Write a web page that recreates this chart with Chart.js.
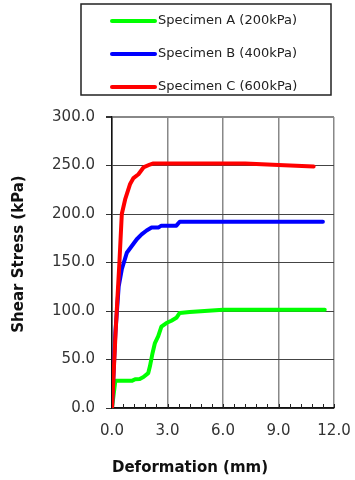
<!DOCTYPE html>
<html>
<head>
<meta charset="utf-8">
<script src="https://cdn.jsdelivr.net/npm/chart.js@4"></script>
<style>
  body { margin: 0; background: #fff; }
  #wrap { width: 355px; height: 480px; }
</style>
</head>
<body>
<div id="wrap"><canvas id="shearChart" width="355" height="480"></canvas></div>
<script>
// data
const seriesNames = ['Specimen A (200kPa)', 'Specimen B (400kPa)', 'Specimen C (600kPa)'];
const seriesColors = ['#00ff00', '#0000ff', '#ff0000'];

const deformA = [0, 0.18, 0.6, 1.07, 1.25, 1.5, 1.7, 1.96, 2.05, 2.19, 2.32, 2.5, 2.67, 2.94, 3.21, 3.48, 3.66, 4.2, 6.0, 8.0, 11.5];
const stressA = [0, 28, 28, 28, 29.7, 30, 32, 36, 43, 56.5, 67, 74, 84, 87.6, 90, 93, 98, 99, 101.3, 101.3, 101.3];

const deformB = [0, 0.18, 0.36, 0.53, 0.8, 1.07, 1.34, 1.6, 1.87, 2.14, 2.5, 2.67, 3.48, 3.66, 6.0, 9.0, 11.4];
const stressB = [0, 77, 125, 143, 160, 167, 174, 179, 183, 186, 186, 188, 188, 192, 192, 192, 192];

const deformC = [0, 0.1, 0.2, 0.27, 0.4, 0.53, 0.71, 0.98, 1.16, 1.43, 1.7, 2.05, 2.2, 4.0, 7.2, 9.0, 10.9];
const stressC = [0, 40, 80, 105, 150, 200, 215, 231, 237, 241, 248, 251, 252, 252, 252, 250.5, 249];

const xTicks = [0, 3, 6, 9, 12];
const yTicks = [0, 50, 100, 150, 200, 250, 300];

const toPoints = (xs, ys) => xs.map((x, i) => ({ x: x, y: ys[i] }));
const allX = [deformA, deformB, deformC];
const allY = [stressA, stressB, stressC];

const fontFam = '"DejaVu Sans", sans-serif';

// box legend + y title + minor ticks
const extras = {
  id: 'extras',
  beforeDatasetsDraw(chart) {
    const ctx = chart.ctx;
    const xs = chart.scales.x;
    const bottom = chart.chartArea.bottom;
    ctx.save();
    ctx.strokeStyle = '#222';
    ctx.lineWidth = 1;
    for (let i = 0; i <= 20; i++) {
      const px = Math.round(xs.getPixelForValue(i * 0.6)) + 0.5;
      ctx.beginPath();
      ctx.moveTo(px, bottom);
      ctx.lineTo(px, bottom - 4);
      ctx.stroke();
    }
    ctx.restore();
  },
  afterDraw(chart) {
    const ctx = chart.ctx;
    ctx.save();
    // legend box
    ctx.strokeStyle = '#222';
    ctx.lineWidth = 1.5;
    ctx.strokeRect(81, 4, 250, 91);
    ctx.font = '13px ' + fontFam;
    ctx.textBaseline = 'middle';
    ctx.fillStyle = '#222';
    chart.data.datasets.forEach((ds, i) => {
      const y = 21 + i * 33;
      ctx.strokeStyle = ds.borderColor;
      ctx.lineWidth = 4;
      ctx.lineCap = 'round';
      ctx.beginPath();
      ctx.moveTo(112, y);
      ctx.lineTo(155, y);
      ctx.stroke();
      ctx.fillText(ds.label, 158, y);
    });
    // y axis title
    ctx.translate(19, 254);
    ctx.rotate(-Math.PI / 2);
    ctx.textAlign = 'center';
    ctx.textBaseline = 'middle';
    ctx.font = 'bold 15px ' + fontFam;
    ctx.fillStyle = '#111';
    ctx.fillText('Shear Stress (kPa)', 0, 0);
    ctx.restore();
  }
};

new Chart(document.getElementById('shearChart'), {
  type: 'line',
  data: {
    datasets: seriesNames.map((name, i) => ({
      label: name,
      data: toPoints(allX[i], allY[i]),
      borderColor: seriesColors[i],
      backgroundColor: seriesColors[i],
      borderWidth: 4,
      pointRadius: 0,
      tension: 0,
      fill: false,
      order: 2 - i,
      borderCapStyle: 'round',
      borderJoinStyle: 'round'
    }))
  },
  options: {
    responsive: false,
    animation: false,
    layout: { padding: { top: 117, right: 21, left: 0, bottom: 0 } },
    plugins: {
      legend: { display: false },
      tooltip: { enabled: false }
    },
    scales: {
      x: {
        type: 'linear',
        min: 0,
        max: 12,
        afterBuildTicks: (s) => { s.ticks = xTicks.map(v => ({ value: v })); },
        afterFit: (s) => { s.height = 72; s.paddingLeft = 0; s.paddingRight = 0; },
        ticks: {
          padding: 14,
          color: '#333',
          font: { family: fontFam, size: 15 },
          callback: (v) => Number(v).toFixed(1)
        },
        grid: {
          color: '#888',
          lineWidth: 1.5,
          drawTicks: false
        },
        border: { color: '#111', width: 1.5 },
        title: {
          display: true,
          text: 'Deformation (mm)',
          align: 'start',
          color: '#111',
          font: { family: fontFam, size: 15, weight: 'bold' },
          padding: { top: 0, bottom: 3 }
        }
      },
      y: {
        min: 0,
        max: 300,
        afterBuildTicks: (s) => { s.ticks = yTicks.map(v => ({ value: v })); },
        afterFit: (s) => { s.width = 112; s.paddingTop = 0; s.paddingBottom = 0; },
        ticks: {
          padding: 11,
          color: '#333',
          font: { family: fontFam, size: 15 },
          callback: (v) => Number(v).toFixed(1)
        },
        grid: {
          color: (c) => (c.tick && c.tick.value === 300 ? '#888' : '#444'),
          lineWidth: (c) => (c.tick && c.tick.value === 300 ? 2 : 1),
          tickLength: 6,
          tickColor: '#333'
        },
        border: { color: '#111', width: 1.5 }
      }
    }
  },
  plugins: [extras]
});
</script>
</body>
</html>
